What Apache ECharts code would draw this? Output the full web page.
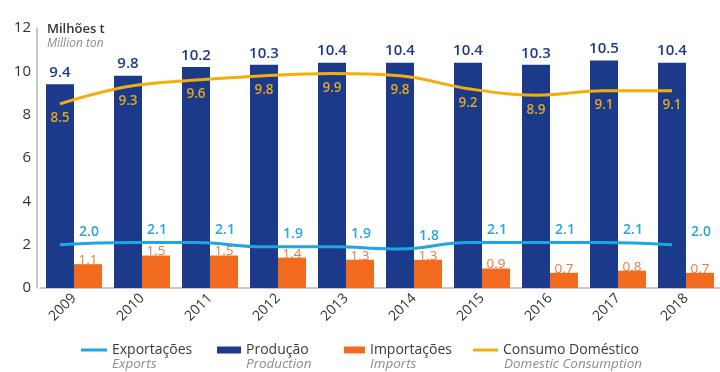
<!DOCTYPE html>
<html>
<head>
<meta charset="utf-8">
<script src="https://cdn.jsdelivr.net/npm/echarts@6/dist/echarts.min.js"></script>
<style>
  html, body { margin: 0; padding: 0; background: #fff; }
  #chart { width: 720px; height: 372px; }
</style>
</head>
<body>
<div id="chart"></div>
<script>
// Years on the category axis
const years = ['2009', '2010', '2011', '2012', '2013', '2014', '2015', '2016', '2017', '2018'];
// Values in million tonnes
const producao    = [9.4, 9.8, 10.2, 10.3, 10.4, 10.4, 10.4, 10.3, 10.5, 10.4];
const importacoes = [1.1, 1.5, 1.5, 1.4, 1.3, 1.3, 0.9, 0.7, 0.8, 0.7];
const exportacoes = [2.0, 2.1, 2.1, 1.9, 1.9, 1.8, 2.1, 2.1, 2.1, 2.0];
const consumo     = [8.5, 9.3, 9.6, 9.8, 9.9, 9.8, 9.2, 8.9, 9.1, 9.1];
// Legend names (Portuguese) and their English subtitles
const names    = ['Exportações', 'Produção', 'Importações', 'Consumo Doméstico'];
const subNames = ['Exports', 'Production', 'Imports', 'Domestic Consumption'];

const NAVY = '#1b3a8a';
const ORANGE = '#f26a1e';
const CYAN = '#1ea5e3';
const GOLD = '#f5ad0c';
const FONT = 'Open Sans';

const oneDecimal = p => Number(p.value).toFixed(1);

const chart = echarts.init(document.getElementById('chart'), null, { renderer: 'canvas' });

const legendPos = [
  { left: 81, w: 26, h: 3 },
  { left: 217, w: 24, h: 7 },
  { left: 344, w: 21, h: 7 },
  { left: 473, w: 25, h: 3 }
];
const legendTextX = [112, 246, 370, 504];

const legends = names.map((n, i) => ({
  data: [{ name: n, icon: 'rect' }],
  left: legendPos[i].left,
  top: 342,
  padding: 0,
  itemWidth: legendPos[i].w,
  itemHeight: legendPos[i].h,
  itemGap: 0,
  selectedMode: false,
  textStyle: { fontFamily: FONT, fontSize: 14, color: '#3a3a3a', lineHeight: 16 }
}));

const subTexts = subNames.map((s, i) => ({
  type: 'text',
  left: legendTextX[i],
  top: 357,
  style: { text: s, fontFamily: FONT, fontSize: 13.5, fontStyle: 'italic', fill: '#8c8c8c' }
}));

chart.setOption({
  animation: false,
  backgroundColor: '#ffffff',
  legend: legends,
  graphic: [
    { type: 'text', left: 47, top: 23, style: { text: 'Milhões t', fontFamily: FONT, fontSize: 13, fontWeight: 600, fill: '#333' } },
    { type: 'text', left: 47, top: 38, style: { text: 'Million ton', fontFamily: FONT, fontSize: 12, fontStyle: 'italic', fill: '#8c8c8c' } }
  ].concat(subTexts),
  grid: [
    { left: 40, right: 0, top: 28, bottom: 84 },
    { left: 26, right: 14, top: 28, bottom: 84 }
  ],
  xAxis: [
    {
      type: 'category', gridIndex: 0, data: years,
      axisLine: { show: true, lineStyle: { color: '#b5b5b5', width: 1.5 } },
      axisTick: { show: false },
      axisLabel: { rotate: 45, margin: 8, fontFamily: FONT, fontSize: 14, color: '#333' }
    },
    { type: 'category', gridIndex: 1, data: years, show: false }
  ],
  yAxis: [
    {
      type: 'value', gridIndex: 0, min: 0, max: 12, interval: 2, offset: 3,
      axisLine: { show: true, lineStyle: { color: '#b5b5b5', width: 1.5 } },
      axisTick: { show: false },
      splitLine: { show: false },
      axisLabel: { margin: 6, fontFamily: FONT, fontSize: 15, color: '#333' }
    },
    { type: 'value', gridIndex: 1, min: 0, max: 12, interval: 2, show: false }
  ],
  series: [
    {
      name: 'Produção', type: 'bar', xAxisIndex: 0, yAxisIndex: 0,
      data: producao, barWidth: 28, barGap: '0%',
      itemStyle: { color: NAVY },
      label: { show: true, position: 'top', distance: 4, formatter: oneDecimal, fontFamily: FONT, fontSize: 15, fontWeight: 600, color: NAVY }
    },
    {
      name: 'Importações', type: 'bar', xAxisIndex: 0, yAxisIndex: 0,
      data: importacoes, barWidth: 28,
      itemStyle: { color: ORANGE },
      label: { show: true, position: 'top', distance: -3, formatter: oneDecimal, fontFamily: FONT, fontSize: 13.5, fontWeight: 500, color: '#f07a38' }
    },
    {
      name: 'Exportações', type: 'line', xAxisIndex: 1, yAxisIndex: 1,
      data: exportacoes, smooth: 0.4, symbol: 'circle', symbolSize: 1,
      lineStyle: { color: CYAN, width: 3 }, itemStyle: { color: CYAN },
      label: { show: true, position: 'top', distance: 5, offset: [29, 0], formatter: oneDecimal, fontFamily: FONT, fontSize: 14, fontWeight: 600, color: '#2aa4dc' },
      z: 5
    },
    {
      name: 'Consumo Doméstico', type: 'line', xAxisIndex: 1, yAxisIndex: 1,
      data: consumo, smooth: 0.4, symbol: 'circle', symbolSize: 1,
      lineStyle: { color: GOLD, width: 3 }, itemStyle: { color: GOLD },
      label: { show: true, position: 'bottom', distance: 7, formatter: oneDecimal, fontFamily: FONT, fontSize: 13.5, fontWeight: 600, color: '#e0a826' },
      z: 5
    }
  ]
});
</script>
</body>
</html>
